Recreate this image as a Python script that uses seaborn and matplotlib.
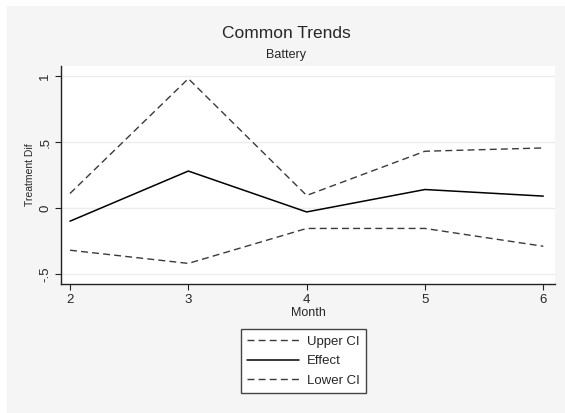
import matplotlib
matplotlib.use("Agg")
import matplotlib.pyplot as plt
import seaborn as sns
import pandas as pd
from matplotlib.patches import Rectangle

# Estimated treatment difference by month with confidence bounds
months = [2, 3, 4, 5, 6]
upper_ci = [0.11, 0.98, 0.095, 0.43, 0.455]
effect = [-0.10, 0.28, -0.03, 0.14, 0.09]
lower_ci = [-0.32, -0.42, -0.155, -0.155, -0.29]
y_ticks = [-0.5, 0, 0.5, 1]
y_tick_labels = ["-.5", "0", ".5", "1"]

sns.set_theme(style="white")
plt.rcParams["font.family"] = ["Liberation Sans", "DejaVu Sans"]

fig = plt.figure(figsize=(5.65, 4.13), dpi=100)
fig.patch.set_facecolor("white")
# grey graph region
fig.patches.append(Rectangle((7 / 565, 0), 1, 1 - 6 / 413, transform=fig.transFigure,
                             facecolor="#f5f5f5", edgecolor="none", zorder=-10))

ax = fig.add_axes([61 / 565, 1 - 284 / 413, (555 - 61) / 565, (284 - 66) / 413])
ax.set_facecolor("white")

df = pd.DataFrame({"Month": months, "Upper CI": upper_ci, "Effect": effect, "Lower CI": lower_ci})
dash = (0, (5, 3))
sns.lineplot(data=df, x="Month", y="Upper CI", ax=ax, color="#3a3a3a", lw=1.0,
             linestyle=dash, label="Upper CI")
sns.lineplot(data=df, x="Month", y="Effect", ax=ax, color="black", lw=1.1,
             label="Effect")
sns.lineplot(data=df, x="Month", y="Lower CI", ax=ax, color="#3a3a3a", lw=1.0,
             linestyle=dash, label="Lower CI")

ax.set_xlim(1.924, 6.099)
ax.set_ylim(-0.576, 1.076)
ax.set_xticks(months)
ax.set_xticklabels([str(m) for m in months], fontsize=9.5)
ax.set_yticks(y_ticks)
ax.set_yticklabels(y_tick_labels, fontsize=9.5, rotation=90, va="center")
for y in y_ticks:
    ax.axhline(y, color="#ececec", lw=1.0, zorder=0)

for side in ["top", "right"]:
    ax.spines[side].set_visible(False)
for side in ["left", "bottom"]:
    ax.spines[side].set_color("#222222")
    ax.spines[side].set_linewidth(1.0)
ax.tick_params(axis="both", which="major", length=4, width=0.8, color="#222222",
               direction="out", pad=3, left=True, bottom=True)

ax.set_xlabel("Month", fontsize=9, labelpad=1)
ax.set_ylabel("Treatment Dif", fontsize=7.5, labelpad=3)

fig.text(286 / 565, 1 - 33 / 413, "Common Trends", ha="center", va="center", fontsize=12.5)
fig.text(286 / 565, 1 - 55 / 413, "Battery", ha="center", va="center", fontsize=9)

leg = ax.legend(loc="center", bbox_to_anchor=(303.5 / 565, 1 - 361 / 413),
                bbox_transform=fig.transFigure, frameon=True, fancybox=False,
                fontsize=9.5, handlelength=3.9, handletextpad=0.6, labelspacing=0.55,
                borderpad=0.5)
leg.get_frame().set_edgecolor("#444444")
leg.get_frame().set_linewidth(1.0)
leg.get_frame().set_facecolor("white")
leg.get_frame().set_alpha(1)

fig.savefig("out.png", dpi=100)
